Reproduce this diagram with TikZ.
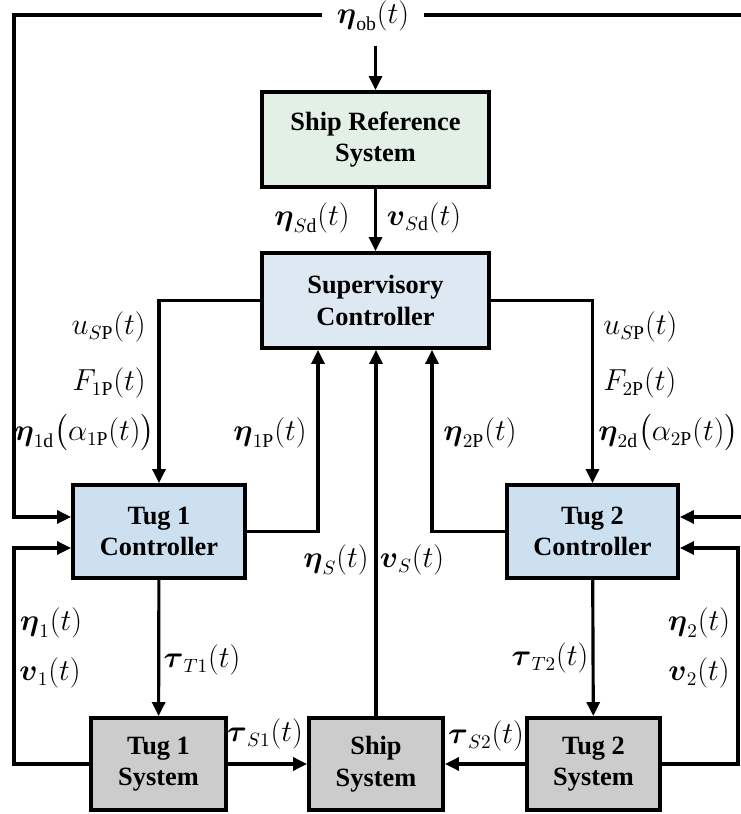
\documentclass[tikz,border=0pt]{standalone}
\usepackage{amsmath}
\usepackage{fontspec}
\setmainfont{Liberation Serif}
\usetikzlibrary{arrows.meta, positioning, calc}
\definecolor{tugRef}{HTML}{E2F0E6}
\definecolor{tugSup}{HTML}{DEE8F3}
\definecolor{tugCtrl}{HTML}{CCE0F0}
\definecolor{tugSys}{HTML}{CCCCCC}

\begin{document}
\begin{tikzpicture}[
  >={Triangle[length=0.28cm,width=0.26cm]},
  font=\fontsize{15}{18}\selectfont,
  flow/.style={->, line width=1.8pt},
  connector/.style={line width=1.8pt},
  blockbox/.style={draw, line width=2.2pt, align=center, inner sep=0pt,
    font=\fontsize{15}{18}\selectfont\bfseries},
  sig/.style={inner sep=0pt, font=\fontsize{16}{19}\selectfont}
]
  \useasboundingbox (0,0) rectangle (14.8,16.28);

  % blocks
  \node[blockbox, fill=tugRef, minimum width=4.54cm, minimum height=1.9cm] (shipref) at (7.51,13.49)
    {Ship Reference\\System};
  \node[blockbox, fill=tugSup, minimum width=4.54cm, minimum height=1.9cm] (superv) at (7.51,10.27)
    {Supervisory\\Controller};
  \node[blockbox, fill=tugCtrl, minimum width=3.44cm, minimum height=1.86cm] (tug1c) at (3.18,5.65)
    {Tug 1\\Controller};
  \node[blockbox, fill=tugCtrl, minimum width=3.42cm, minimum height=1.86cm] (tug2c) at (11.85,5.65)
    {Tug 2\\Controller};
  \node[blockbox, fill=tugSys, minimum width=2.7cm, minimum height=1.84cm] (tug1s) at (3.17,1.0)
    {Tug 1\\System};
  \node[blockbox, fill=tugSys, minimum width=2.68cm, minimum height=1.84cm] (ships) at (7.52,1.0)
    {Ship\\System};
  \node[blockbox, fill=tugSys, minimum width=2.66cm, minimum height=1.84cm] (tug2s) at (11.87,1.0)
    {Tug 2\\System};

  % obstacle feedback
  \node[sig, inner sep=0.3cm] (obs) at (7.46,15.96) {$\boldsymbol{\eta}_{\mathrm{ob}}(t)$};
  \coordinate (topL) at (0.28,15.98);
  \coordinate (topR) at (14.95,15.98);
  \draw[flow] (obs.west |- topL) -- (topL) |- ([yshift=0.29cm]tug1c.west);
  \draw[flow] (obs.east |- topR) -- (topR) |- ([yshift=0.29cm]tug2c.east);
  \draw[flow] (obs.south -| shipref) -- (shipref.north);

  \draw[flow] (shipref) -- (superv);
  \node[sig] (etaSd) at (6.24,11.92) {$\boldsymbol{\eta}_{S\mathrm{d}}(t)$};
  \node[sig] (nuSd) at (8.48,11.92) {$\boldsymbol{v}_{S\mathrm{d}}(t)$};

  % supervisory outputs
  \draw[flow] (superv.west) -| (tug1c.north);
  \draw[flow] (superv.east) -| (tug2c.north);
  \node[sig, anchor=east] (uSP1) at (2.92,9.74) {$u_{S\mathrm{P}}(t)$};
  \node[sig, anchor=east] (F1P) at (2.92,8.62) {$F_{1\mathrm{P}}(t)$};
  \node[sig, anchor=east] (eta1d) at (3.1,7.62) {$\boldsymbol{\eta}_{1\mathrm{d}}\bigl(\alpha_{1\mathrm{P}}(t)\bigr)$};
  \node[sig, anchor=west] (uSP2) at (12.06,9.74) {$u_{S\mathrm{P}}(t)$};
  \node[sig, anchor=west] (F2P) at (12.06,8.62) {$F_{2\mathrm{P}}(t)$};
  \node[sig, anchor=west] (eta2d) at (11.96,7.62) {$\boldsymbol{\eta}_{2\mathrm{d}}\bigl(\alpha_{2\mathrm{P}}(t)\bigr)$};

  % feedback to supervisor
  \draw[flow] (tug1c.east) -| ($(superv.south)+(-1.15,0)$);
  \draw[flow] (tug2c.west) -| ($(superv.south)+(1.13,0)$);
  \draw[flow] (ships.north) -- (ships.north |- superv.south);
  \node[sig] (eta1P) at (5.4,7.62) {$\boldsymbol{\eta}_{1\mathrm{P}}(t)$};
  \node[sig] (eta2P) at (9.6,7.62) {$\boldsymbol{\eta}_{2\mathrm{P}}(t)$};
  \node[sig] (etaS) at (6.72,5.08) {$\boldsymbol{\eta}_{S}(t)$};
  \node[sig] (nuS) at (8.24,5.08) {$\boldsymbol{v}_{S}(t)$};

  % tug control
  \draw[flow] (tug1c) -- (tug1s);
  \draw[flow] (tug2c) -- (tug2s);
  \node[sig] (tauT1) at (4.04,3.08) {$\boldsymbol{\tau}_{T1}(t)$};
  \node[sig] (tauT2) at (11.0,3.12) {$\boldsymbol{\tau}_{T2}(t)$};

  % forces on ship
  \draw[flow] (tug1s) -- (ships);
  \draw[flow] (tug2s) -- (ships);
  \node[sig] (tauS1) at (5.3,1.6) {$\boldsymbol{\tau}_{S1}(t)$};
  \node[sig] (tauS2) at (9.72,1.56) {$\boldsymbol{\tau}_{S2}(t)$};

  % tug state feedback
  \coordinate (loopL) at (0.28,1.0);
  \coordinate (loopR) at (14.76,1.0);
  \draw[flow] (tug1s.west) -- (loopL) |- ([yshift=-0.33cm]tug1c.west);
  \draw[flow] (tug2s.east) -- (loopR) |- ([yshift=-0.33cm]tug2c.east);
  \node[sig] (eta1) at (1.02,3.82) {$\boldsymbol{\eta}_{1}(t)$};
  \node[sig] (nu1) at (1.0,2.82) {$\boldsymbol{v}_{1}(t)$};
  \node[sig] (eta2) at (13.98,3.82) {$\boldsymbol{\eta}_{2}(t)$};
  \node[sig] (nu2) at (13.98,2.82) {$\boldsymbol{v}_{2}(t)$};
\end{tikzpicture}
\end{document}
